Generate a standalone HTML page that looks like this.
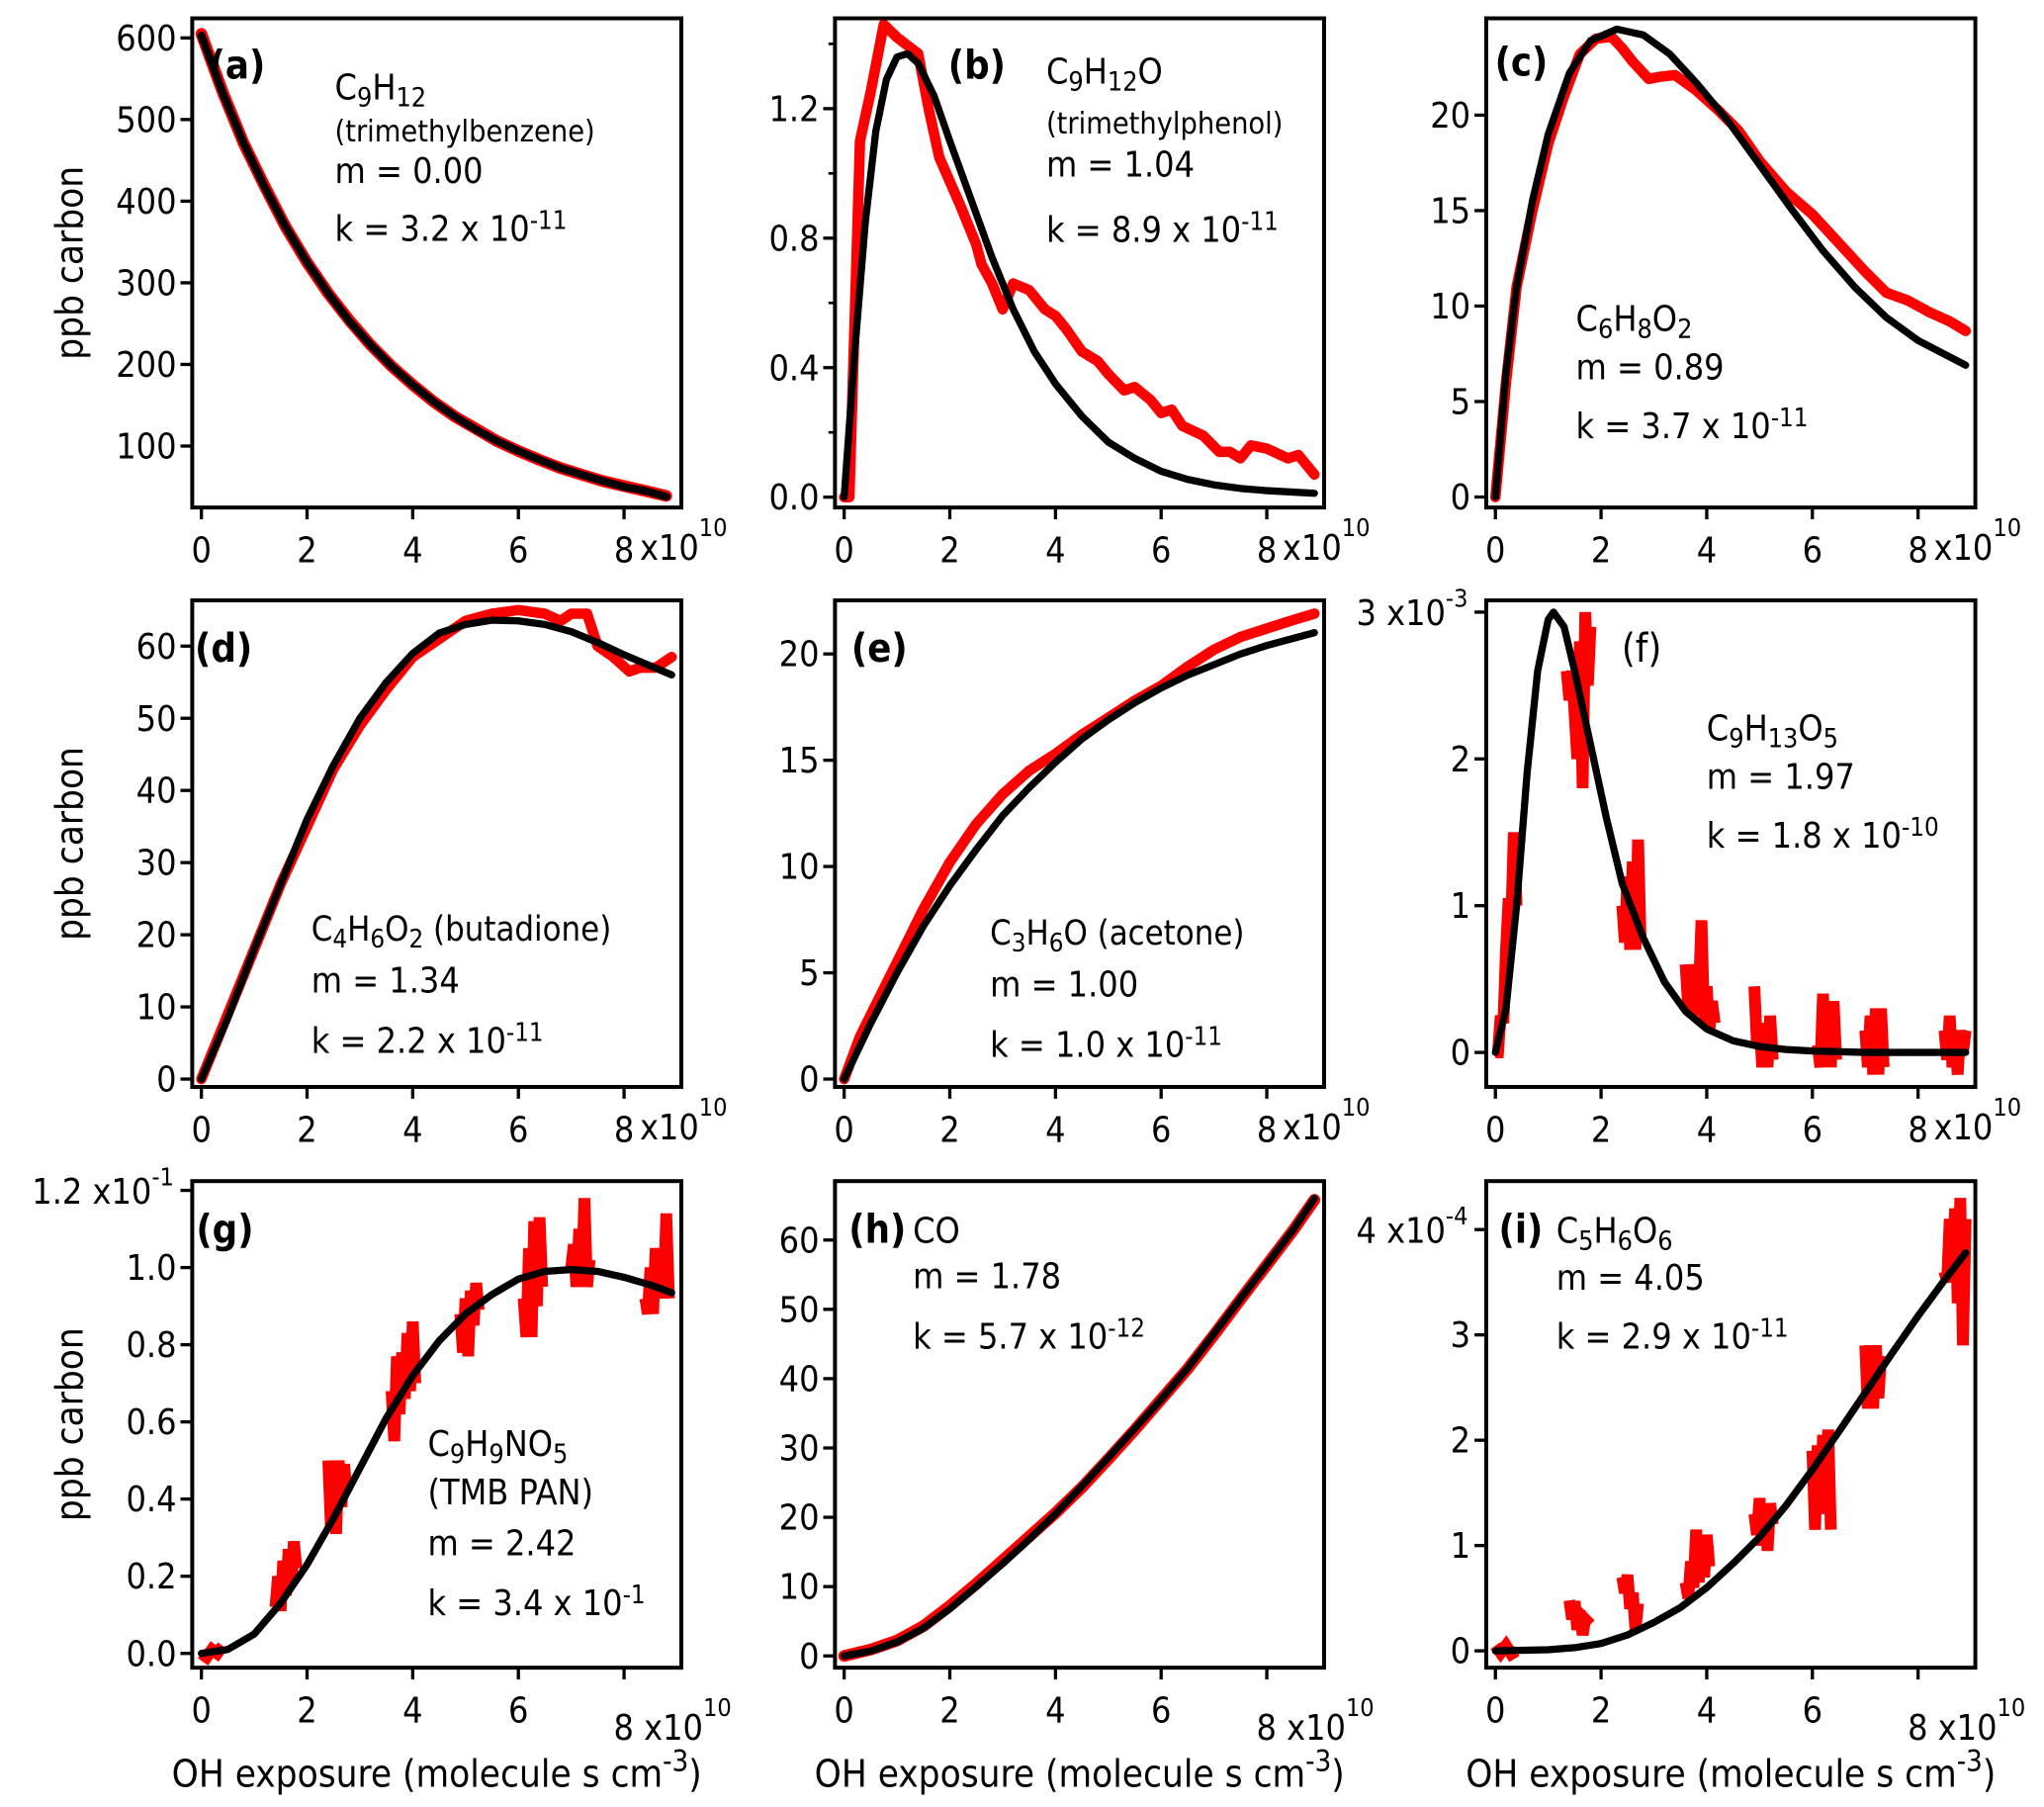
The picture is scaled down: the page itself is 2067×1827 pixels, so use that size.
<!DOCTYPE html>
<html><head><meta charset="utf-8">
<style>
html,body{margin:0;padding:0;background:#fff;}
svg{display:block;}
text{font-family:"DejaVu Sans","Liberation Sans",sans-serif;font-stretch:condensed;fill:#000;}
</style></head>
<body>
<svg id="fig" xmlns="http://www.w3.org/2000/svg" width="2067" height="1827" viewBox="0 0 1563 1381.5">
<rect x="0" y="0" width="1563" height="1381.5" fill="#fff"/>
</svg>
<script>
// ---------- data (x in 1e10 molecule s cm^-3) ----------
const aX=[0,0.4,0.8,1.2,1.6,2.0,2.4,2.8,3.2,3.6,4.0,4.4,4.8,5.2,5.6,6.0,6.4,6.8,7.2,7.6,8.0,8.4,8.8];
const aRed=[605,534,471,418,368,325,287,254,224,198,175,154,136,121,106,94,83,73,65,57,51,45,39];
const aFit=[603,533,471,417,368,325,287,253,224,198,175,154,136,120,106,94,83,73,65,57,50,45,38];

const bRedX=[0,0.1,0.3,0.5,0.75,1.0,1.4,1.6,1.8,2.2,2.5,2.6,2.8,3.0,3.2,3.5,3.8,4.0,4.2,4.5,4.8,5.0,5.3,5.5,5.8,6.0,6.2,6.4,6.8,7.1,7.3,7.5,7.7,8.0,8.4,8.6,8.9];
const bRed=[0,0,1.1,1.25,1.46,1.42,1.37,1.2,1.05,0.9,0.78,0.72,0.66,0.58,0.66,0.64,0.58,0.56,0.52,0.45,0.42,0.38,0.33,0.34,0.30,0.26,0.27,0.22,0.19,0.14,0.14,0.12,0.16,0.15,0.12,0.13,0.07];
const bFitX=[0,0.2,0.4,0.6,0.8,1.0,1.2,1.4,1.7,2.0,2.4,2.8,3.2,3.6,4.0,4.5,5.0,5.5,6.0,6.5,7.0,7.5,8.0,8.9];
const bFit=[0,0.45,0.85,1.13,1.29,1.36,1.37,1.34,1.24,1.10,0.92,0.74,0.58,0.45,0.35,0.25,0.17,0.12,0.08,0.055,0.038,0.027,0.02,0.012];

const cRedX=[0,0.2,0.4,0.7,1.0,1.3,1.6,1.9,2.2,2.4,2.6,2.9,3.1,3.4,3.8,4.2,4.6,5.0,5.5,6.0,6.5,7.0,7.4,7.8,8.2,8.6,8.9];
const cRed=[0,6,11,15,18.5,21,23.2,24,24.1,23.5,22.8,21.9,22,22.1,21.3,20.3,19.2,17.6,16,14.8,13.3,11.8,10.7,10.3,9.7,9.2,8.7];
const cFitX=[0,0.2,0.4,0.7,1.0,1.4,1.8,2.3,2.8,3.3,3.8,4.4,5.0,5.6,6.2,6.8,7.4,8.0,8.9];
const cFit=[0,6.5,11,15.5,19,22.2,23.9,24.5,24.2,23.2,21.7,19.7,17.4,15.1,12.9,11,9.4,8.2,6.9];

const dRedX=[0,0.5,1,1.5,2,2.5,3,3.5,4,4.5,5,5.5,6,6.5,6.8,7.0,7.3,7.5,7.8,8.1,8.3,8.6,8.9];
const dRed=[0,9,18,27,35,43,49,54,58.5,61,63.5,64.5,65,64.5,63.5,64.5,64.5,60,58.5,56.5,57,57,58.5];
const dFitX=[0,0.5,1,1.5,2,2.5,3,3.5,4,4.5,5,5.5,6,6.5,7,7.5,8,8.9];
const dFit=[0,8.5,18,27,36,43.5,50,55,59,61.8,63,63.6,63.5,63,62,60.5,58.8,56];

const eRedX=[0,0.3,0.6,1,1.5,2,2.5,3,3.5,4,4.5,5,5.5,6,6.5,7,7.5,8,8.5,8.9];
const eRed=[0,2,3.5,5.5,8,10.2,12,13.4,14.5,15.3,16.2,17,17.8,18.5,19.4,20.2,20.8,21.2,21.6,21.9];
const eFitX=[0,0.5,1,1.5,2,2.5,3,3.5,4,4.5,5,5.5,6,6.5,7,7.5,8,8.9];
const eFit=[0,2.6,5,7.2,9.1,10.8,12.4,13.7,14.9,16,16.9,17.7,18.4,19,19.5,20,20.4,21];

// noisy series: null separates measurement bursts
const fRedX=[0,0.05,0.1,0.15,0.2,0.25,0.3,0.35,0.4,null,1.35,1.4,1.45,1.5,1.55,1.6,1.65,1.7,1.75,1.8,null,2.4,2.45,2.5,2.55,2.6,2.65,2.7,2.75,null,3.6,3.65,3.7,3.75,3.8,3.85,3.9,3.95,4.0,4.05,4.1,4.15,null,4.9,4.95,5.0,5.05,5.1,5.15,5.2,5.25,null,6.1,6.15,6.2,6.25,6.3,6.35,6.4,6.45,null,7.0,7.05,7.1,7.15,7.2,7.25,7.3,7.35,null,8.5,8.55,8.6,8.65,8.7,8.75,8.8,8.85,8.9];
const fRed=[0,0,0.25,0.2,0.7,1.05,0.9,1.5,1.0,null,2.6,2.4,2.6,2.3,2.0,2.8,1.8,3.0,2.5,2.9,null,1.0,0.75,1.2,0.7,1.3,0.7,1.45,0.75,null,0.6,0.3,0.55,0.25,0.6,0.4,0.9,0.2,0.45,0.15,0.35,0.2,null,0.45,0.05,0.2,-0.1,0.15,-0.1,0.25,-0.05,null,0.05,-0.1,0.4,-0.1,0.35,-0.1,0.35,-0.05,null,0.15,-0.1,0.25,-0.15,0.3,-0.15,0.3,-0.1,null,0.15,-0.05,0.25,-0.1,0.1,-0.15,0.15,0,0.15];
const fFitX=[0,0.2,0.4,0.6,0.8,1.0,1.1,1.3,1.5,1.8,2.1,2.4,2.8,3.2,3.6,4.0,4.5,5,5.5,6,7,8.9];
const fFit=[0,0.3,1.0,1.9,2.6,2.95,3.0,2.9,2.6,2.1,1.6,1.15,0.78,0.48,0.28,0.16,0.08,0.04,0.02,0.01,0,0];

const gRedX=[0,0.1,0.2,0.3,0.4,null,1.4,1.45,1.5,1.55,1.6,1.65,1.7,1.75,1.8,null,2.4,2.45,2.5,2.55,2.6,2.65,2.7,2.75,null,3.6,3.65,3.7,3.75,3.8,3.85,3.9,3.95,4.0,4.05,null,4.9,4.95,5.0,5.05,5.1,5.15,5.2,5.25,null,6.1,6.15,6.2,6.25,6.3,6.35,6.4,6.45,null,7.0,7.05,7.1,7.15,7.2,7.25,7.3,7.35,null,8.4,8.45,8.5,8.55,8.6,8.65,8.7,8.75,8.8,8.85];
const gRed=[0,-0.01,0.01,0,0.02,null,0.12,0.2,0.11,0.24,0.15,0.27,0.18,0.29,0.22,null,0.5,0.33,0.48,0.31,0.5,0.38,0.49,0.42,null,0.68,0.55,0.77,0.62,0.78,0.66,0.83,0.68,0.86,0.7,null,0.88,0.78,0.92,0.77,0.94,0.85,0.96,0.89,null,0.92,0.82,1.05,0.82,1.12,0.9,1.13,0.95,null,1.0,1.06,0.95,1.1,0.96,1.18,0.95,1.02,null,0.92,0.88,1.0,0.88,1.05,0.95,1.05,0.92,1.14,0.92];
const gFitX=[0,0.5,1,1.5,2,2.5,3,3.5,4,4.5,5,5.5,6,6.5,7,7.5,8,8.5,8.9];
const gFit=[0,0.01,0.05,0.13,0.23,0.35,0.48,0.61,0.72,0.81,0.88,0.93,0.97,0.99,0.995,0.99,0.975,0.955,0.935];

const hX=[0,0.5,1,1.5,2,2.5,3,3.5,4,4.5,5,5.5,6,6.5,7,7.5,8,8.5,8.9];
const hRed=[0,0.9,2.2,4.3,7.2,10.4,13.8,17.2,20.6,24.3,28.4,32.6,37,41.4,46.3,51.4,56.4,61.4,65.8];
const hFit=[0,0.7,2,4,6.8,10,13.3,16.8,20.5,24.5,28.6,32.8,37,41.5,46.5,51.5,56.5,61.5,66];

const iRedX=[0,0.1,0.2,0.3,0.4,null,1.4,1.45,1.5,1.55,1.6,1.65,1.7,1.8,null,2.4,2.45,2.5,2.55,2.6,2.65,2.7,null,3.6,3.65,3.7,3.75,3.8,3.85,3.9,3.95,4.0,4.05,null,4.9,4.95,5.0,5.05,5.1,5.15,5.2,5.25,null,6.0,6.05,6.1,6.15,6.2,6.25,6.3,6.35,null,7.0,7.05,7.1,7.15,7.2,7.25,7.3,null,8.5,8.55,8.6,8.65,8.7,8.75,8.8,8.85,8.9];
const iRed=[0.05,-0.02,0.05,-0.03,0,null,0.48,0.3,0.47,0.2,0.38,0.15,0.3,0.25,null,0.7,0.55,0.72,0.4,0.55,0.2,0.45,null,0.65,0.5,0.85,0.6,1.15,0.65,1.1,0.7,1.1,0.8,null,1.3,1.1,1.45,1.0,1.4,0.95,1.4,1.2,null,1.9,1.15,1.95,1.3,2.05,1.5,2.1,1.15,null,2.9,2.3,2.9,2.3,2.9,2.4,2.8,null,3.6,3.5,4.1,3.6,4.2,3.3,4.3,2.9,4.1];
const iFitX=[0,1,1.5,2,2.5,3,3.5,4,4.5,5,5.5,6,6.5,7,7.5,8,8.5,8.9];
const iFit=[0,0.01,0.03,0.07,0.15,0.27,0.41,0.6,0.83,1.08,1.38,1.72,2.08,2.45,2.82,3.18,3.52,3.78];

const xTicks=[0,2,4,6,8];
const aTicks=[100,200,300,400,500,600];
const bTicks=[0,0.4,0.8,1.2];
const bTickLabels=["0.0","0.4","0.8","1.2"];
const bMinor=[0.2,0.6,1.0,1.4];
const cTicks=[0,5,10,15,20];
const dTicks=[0,10,20,30,40,50,60];
const eTicks=[0,5,10,15,20];
const fTicks=[0,1,2];
const gTicks=[0,0.2,0.4,0.6,0.8,1.0];
const gTickLabels=["0.0","0.2","0.4","0.6","0.8","1.0"];
const hTicks=[0,10,20,30,40,50,60];
const iTicks=[0,1,2,3];

// ---------- layout ----------
const NS="http://www.w3.org/2000/svg";
const svg=document.getElementById('fig');
const COLS=[147,638.5,1136.5], W=374;
const ROWS=[[14,388],[459,831],[903,1275]];
const X0=7, XU=40.4;

function el(tag,attrs,parent){const e=document.createElementNS(NS,tag);for(const k in attrs)e.setAttribute(k,attrs[k]);(parent||svg).appendChild(e);return e;}

const panels={
 a:{c:0,r:0,ymin:24.7,ymax:624,ticks:aTicks,labels:aTicks.map(String)},
 b:{c:1,r:0,ymin:-0.032,ymax:1.479,ticks:bTicks,labels:bTickLabels,minor:bMinor},
 c:{c:2,r:0,ymin:-0.55,ymax:25.07,ticks:cTicks,labels:cTicks.map(String)},
 d:{c:0,r:1,ymin:-1.09,ymax:66.34,ticks:dTicks,labels:dTicks.map(String)},
 e:{c:1,r:1,ymin:-0.37,ymax:22.52,ticks:eTicks,labels:eTicks.map(String)},
 f:{c:2,r:1,ymin:-0.235,ymax:3.08,ticks:fTicks,labels:fTicks.map(String),extra:[3,"3 x10","-3"]},
 g:{c:0,r:2,ymin:-0.037,ymax:1.224,ticks:gTicks,labels:gTickLabels,extra:[1.2,"1.2 x10","-1"]},
 h:{c:1,r:2,ymin:-1.7,ymax:68.5,ticks:hTicks,labels:hTicks.map(String)},
 i:{c:2,r:2,ymin:-0.16,ymax:4.46,ticks:iTicks,labels:iTicks.map(String),extra:[4,"4 x10","-4"]}
};
for(const k in panels){const p=panels[k];p.left=COLS[p.c];p.right=p.left+W;p.top=ROWS[p.r][0];p.bottom=ROWS[p.r][1];}
function xp(p,x){return p.left+X0+x*XU;}
function yp(p,v){return p.bottom-(v-p.ymin)/(p.ymax-p.ymin)*(p.bottom-p.top);}

function lineThrough(p,xs,ys,color,w,name,join){
  const g=p.g;
  let segs=[],cur=[];
  for(let i=0;i<xs.length;i++){
    if(xs[i]===null||ys[i]===null){if(cur.length)segs.push(cur);cur=[];continue;}
    cur.push(xp(p,xs[i]).toFixed(1)+','+yp(p,ys[i]).toFixed(1));
  }
  if(cur.length)segs.push(cur);
  segs.forEach(s=>{
    const pl=el('polyline',{points:s.join(' '),fill:'none',stroke:color,'stroke-width':w,'stroke-linejoin':join||'round','stroke-linecap':join?'butt':'round','clip-path':'url(#clip-'+p.key+')'},g);
    
    
  });
}

const defs=el('defs',{});
for(const k in panels){
  const p=panels[k]; p.key=k;
  const cp=el('clipPath',{id:'clip-'+k},defs);
  el('rect',{x:p.left,y:p.top,width:W,height:p.bottom-p.top},cp);
  const g=el('g',{});
  
  
  p.g=g;
}

function drawAxes(p){
  const g=p.g;
  // y ticks
  p.ticks.forEach((v,i)=>{
    const y=yp(p,v);
    const t=el('line',{x1:p.left-9,x2:p.left,y1:y,y2:y,stroke:'#000','stroke-width':2.5},g);
    
    
    const tx=el('text',{x:p.left-12,y:y+9.5,'font-size':27,'text-anchor':'end'},g);
    tx.textContent=p.labels[i];
    
    
  });
  (p.minor||[]).forEach(v=>{
    const y=yp(p,v);
    const t=el('line',{x1:p.left-5,x2:p.left,y1:y,y2:y,stroke:'#000','stroke-width':2},g);
    
    
  });
  if(p.extra){
    const y=yp(p,p.extra[0]);
    const t=el('line',{x1:p.left-9,x2:p.left,y1:y,y2:y,stroke:'#000','stroke-width':2.5},g);
    
    
    const tx=el('text',{x:p.left-14,y:y+10,'font-size':27,'text-anchor':'end'},g);
    
    
    const s1=el('tspan',{},tx);s1.textContent=p.extra[1];
    const s2=el('tspan',{dy:-14,'font-size':19},tx);s2.textContent=p.extra[2];
  }
  // x ticks
  xTicks.forEach(v=>{
    const x=xp(p,v);
    const t=el('line',{x1:x,x2:x,y1:p.bottom,y2:p.bottom+9,stroke:'#000','stroke-width':2.5},g);
    
    
    if(p.r===2 && v===8) return;
    const tx=el('text',{x:x,y:p.bottom+42,'font-size':27,'text-anchor':'middle'},g);
    tx.textContent=String(v);
    
    
  });
  const x8=xp(p,8);
  if(p.r<2){
    const tx=el('text',{x:x8+12,y:p.bottom+40,'font-size':27},g);
    
    
    const s1=el('tspan',{},tx);s1.textContent='x10';
    const s2=el('tspan',{dy:-18,'font-size':19},tx);s2.textContent='10';
  } else {
    const tx=el('text',{x:x8-8,y:p.bottom+55,'font-size':27},g);
    
    
    const s1=el('tspan',{},tx);s1.textContent='8 x10';
    const s2=el('tspan',{dy:-18,'font-size':19},tx);s2.textContent='10';
    const at=el('text',{x:p.left+W/2,y:1366,'font-size':29,'text-anchor':'middle'},g);
    
    
    const a1=el('tspan',{},at);a1.textContent='OH exposure (molecule s cm';
    const a2=el('tspan',{dy:-12,'font-size':22},at);a2.textContent='-3';
    const a3=el('tspan',{dy:12},at);a3.textContent=')';
  }
  if(p.c===0){
    const cy=(p.top+p.bottom)/2;
    const yt=el('text',{x:0,y:0,'font-size':29,'text-anchor':'middle',transform:'translate(63,'+cy+') rotate(-90)'},g);
    yt.textContent='ppb carbon';
    
    
  }
}
function frame(p){
  const r=el('rect',{x:p.left,y:p.top,width:W,height:p.bottom-p.top,fill:'none',stroke:'#000','stroke-width':3},p.g);
  
  
}
for(const k in panels) drawAxes(panels[k]);

const P=panels;
lineThrough(P.a,aX,aRed,'#f00',9,'measured-series');
lineThrough(P.a,aX,aFit,'#000',6,'fit-curve');
lineThrough(P.b,bRedX,bRed,'#f00',8,'measured-series');
lineThrough(P.b,bFitX,bFit,'#000',5.5,'fit-curve');
lineThrough(P.c,cRedX,cRed,'#f00',8,'measured-series');
lineThrough(P.c,cFitX,cFit,'#000',5.5,'fit-curve');
lineThrough(P.d,dRedX,dRed,'#f00',8,'measured-series');
lineThrough(P.d,dFitX,dFit,'#000',5.5,'fit-curve');
lineThrough(P.e,eRedX,eRed,'#f00',8,'measured-series');
lineThrough(P.e,eFitX,eFit,'#000',5.5,'fit-curve');
lineThrough(P.f,fRedX,fRed,'#f00',9,'measured-series','miter');
lineThrough(P.f,fFitX,fFit,'#000',5.5,'fit-curve');
lineThrough(P.g,gRedX,gRed,'#f00',9,'measured-series','miter');
lineThrough(P.g,gFitX,gFit,'#000',5.5,'fit-curve');
lineThrough(P.h,hX,hRed,'#f00',9,'measured-series');
lineThrough(P.h,hX,hFit,'#000',5.5,'fit-curve');
lineThrough(P.i,iRedX,iRed,'#f00',9,'measured-series','miter');
lineThrough(P.i,iFitX,iFit,'#000',5.5,'fit-curve');
for(const k in panels) frame(panels[k]);

// ---------- annotations ----------
function ann(p,x,y,parts,size,name,bold){
  const t=el('text',{x:x,y:y,'font-size':size},p.g);
  if(bold) t.setAttribute('font-weight','bold');
  
  
  parts.forEach(pt=>{
    let s;
    if(typeof pt==='string'){s=el('tspan',{},t);s.textContent=pt;}
    else if(pt[0]==='sub'){s=el('tspan',{'baseline-shift':'-25%','font-size':size*0.75},t);s.textContent=pt[1];}
    else {s=el('tspan',{'baseline-shift':'45%','font-size':size*0.72},t);s.textContent=pt[1];}
  });
}
ann(P.a,160,60,['(a)'],30,'panel-label',true);
ann(P.a,256,76,['C',['sub','9'],'H',['sub','12']],27,'compound-formula');
ann(P.a,256,108,['(trimethylbenzene)'],23,'compound-name');
ann(P.a,256,140,['m = 0.00'],27,'m-value');
ann(P.a,256,184,['k = 3.2 x 10',['sup','-11']],27,'k-value');

ann(P.b,725,60,['(b)'],30,'panel-label',true);
ann(P.b,800,64,['C',['sub','9'],'H',['sub','12'],'O'],27,'compound-formula');
ann(P.b,800,102,['(trimethylphenol)'],23,'compound-name');
ann(P.b,800,135,['m = 1.04'],27,'m-value');
ann(P.b,800,185,['k = 8.9  x 10',['sup','-11']],27,'k-value');

ann(P.c,1143,58,['(c)'],30,'panel-label',true);
ann(P.c,1205,253,['C',['sub','6'],'H',['sub','8'],'O',['sub','2']],27,'compound-formula');
ann(P.c,1205,290,['m = 0.89'],27,'m-value');
ann(P.c,1205,335,['k = 3.7 x 10',['sup','-11']],27,'k-value');

ann(P.d,149,506,['(d)'],30,'panel-label',true);
ann(P.d,238,719,['C',['sub','4'],'H',['sub','6'],'O',['sub','2'],' (butadione)'],26,'compound-formula');
ann(P.d,238,759,['m = 1.34'],27,'m-value');
ann(P.d,238,805,['k = 2.2  x 10',['sup','-11']],27,'k-value');

ann(P.e,651,506,['(e)'],30,'panel-label',true);
ann(P.e,757,722,['C',['sub','3'],'H',['sub','6'],'O (acetone)'],26,'compound-formula');
ann(P.e,757,762,['m = 1.00'],27,'m-value');
ann(P.e,757,808,['k = 1.0  x 10',['sup','-11']],27,'k-value');

ann(P.f,1240,506,['(f)'],30,'panel-label');
ann(P.f,1305,566,['C',['sub','9'],'H',['sub','13'],'O',['sub','5']],27,'compound-formula');
ann(P.f,1305,603,['m = 1.97'],27,'m-value');
ann(P.f,1305,648,['k = 1.8  x 10',['sup','-10']],27,'k-value');

ann(P.g,150,950,['(g)'],30,'panel-label',true);
ann(P.g,327,1113,['C',['sub','9'],'H',['sub','9'],'NO',['sub','5']],27,'compound-formula');
ann(P.g,327,1150,['(TMB PAN)'],27,'compound-name');
ann(P.g,327,1189,['m = 2.42'],27,'m-value');
ann(P.g,327,1235,['k = 3.4  x 10',['sup','-1']],27,'k-value');

ann(P.h,649,950,['(h)'],30,'panel-label',true);
ann(P.h,698,950,['CO'],27,'compound-formula');
ann(P.h,698,985,['m = 1.78'],27,'m-value');
ann(P.h,698,1031,['k = 5.7 x 10',['sup','-12']],27,'k-value');

ann(P.i,1146,950,['(i)'],30,'panel-label',true);
ann(P.i,1190,950,['C',['sub','5'],'H',['sub','6'],'O',['sub','6']],27,'compound-formula');
ann(P.i,1190,986,['m = 4.05'],27,'m-value');
ann(P.i,1190,1031,['k = 2.9 x 10',['sup','-11']],27,'k-value');
</script>
</body></html>
